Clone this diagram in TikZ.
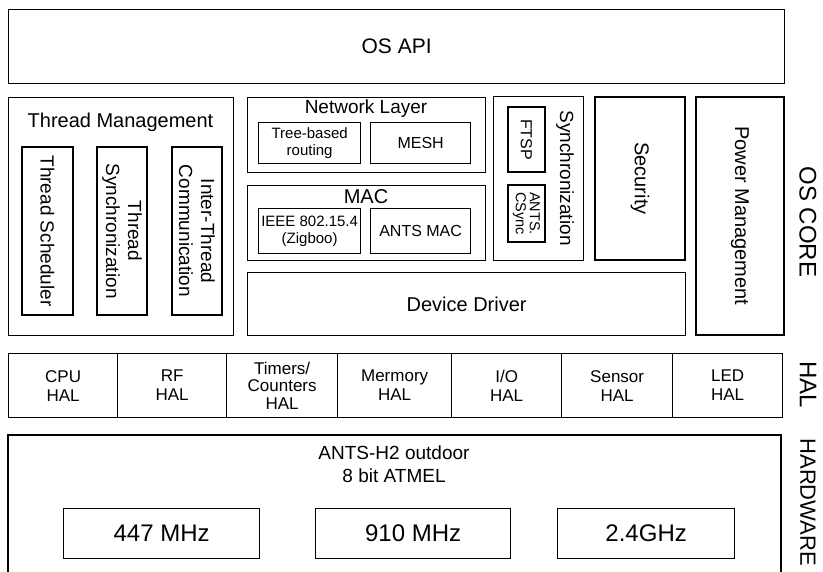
\documentclass[tikz,border=0pt]{standalone}
\usepackage{fontspec}
\setmainfont{Liberation Sans}
\tikzset{
  box/.style={draw, line width=1.3pt, inner sep=0pt, align=center},
  nw/.style={anchor=north west},
  vert/.style={rotate=-90},
  fXL/.style={font=\fontsize{21}{24}\selectfont},
  fL/.style={font=\fontsize{19}{22}\selectfont},
  fM/.style={font=\fontsize{17}{19}\selectfont},
  fS/.style={font=\fontsize{15}{17}\selectfont},
  fSM/.style={font=\fontsize{16}{18}\selectfont},
  fXS/.style={font=\fontsize{14.5}{14}\selectfont},
  fFreq/.style={font=\fontsize{24}{26}\selectfont},
  fSide/.style={font=\fontsize{24}{26}\selectfont},
}
\begin{document}
\begin{tikzpicture}[x=1pt,y=-1pt]
\useasboundingbox (0,0) rectangle (823,572);

% OS API
\node[box, nw, minimum width=776pt, minimum height=74pt, fXL] (osapi) at (8,9) {OS API};

% Thread management
\node[box, nw, minimum width=225pt, minimum height=238pt] (tm) at (8,97) {};
\node[font=\fontsize{20}{22}\selectfont] (tmt) at (120.5,122) {Thread Management};
\node[box, vert, minimum width=168pt, minimum height=51pt, fL] (ts) at (47.5,231) {Thread Scheduler};
\node[box, vert, minimum width=168pt, minimum height=50pt, fL] (tsy) at (122,231) {Thread\\Synchronization};
\node[box, vert, minimum width=168pt, minimum height=50pt, fL] (itc) at (197,231) {Inter-Thread\\Communication};

% Network layer
\node[box, nw, minimum width=238pt, minimum height=75pt] (nl) at (247,97) {};
\node[fL] (nlt) at (366,109) {Network Layer};
\node[box, nw, minimum width=102pt, minimum height=41pt, fS] (tree) at (258,122) {Tree-based\\routing};
\node[box, nw, minimum width=100pt, minimum height=41pt, fSM] (mesh) at (370,122) {MESH};

% MAC
\node[box, nw, minimum width=238pt, minimum height=75pt] (mac) at (247,185) {};
\node[font=\fontsize{20}{22}\selectfont] (mact) at (366,197) {MAC};
\node[box, nw, minimum width=102pt, minimum height=45pt, fS] (ieee) at (258,208) {IEEE 802.15.4\\(Zigboo)};
\node[box, nw, minimum width=100pt, minimum height=45pt, fSM] (antsmac) at (370,208) {ANTS MAC};

% Device driver
\node[box, nw, minimum width=438pt, minimum height=63pt, font=\fontsize{20}{22}\selectfont] (dd) at (247,272) {Device Driver};

% Synchronization
\node[box, nw, minimum width=90pt, minimum height=164pt] (sync) at (493,96) {};
\node[vert, fL] (synct) at (565,178) {Synchronization};
\node[box, vert, minimum width=65pt, minimum height=37pt, fSM] (ftsp) at (526.5,139.5) {FTSP};
\node[box, vert, minimum width=57pt, minimum height=37pt, fXS] (csync) at (526.5,213.5) {ANTS.\\CSync};

% Security
\node[box, vert, minimum width=163pt, minimum height=90pt, font=\fontsize{20}{22}\selectfont] (sec) at (640,178.5) {Security};

% Power management
\node[box, vert, minimum width=238pt, minimum height=88pt, font=\fontsize{20}{22}\selectfont] (pm) at (740,216) {Power Management};

\node[vert, fSide] (oscore) at (808,222) {OS CORE};

% HAL row
\node[box, nw, minimum width=109pt, minimum height=64pt, fM] (cpu) at (8,353) {CPU\\HAL};
\node[box, nw, minimum width=109pt, minimum height=64pt, fM] (rf) at (117,353) {RF\\HAL};
\node[box, nw, minimum width=111pt, minimum height=64pt, font=\fontsize{17}{17.5}\selectfont] (tim) at (226,353) {Timers/\\Counters\\HAL};
\node[box, nw, minimum width=114pt, minimum height=64pt, fM] (mem) at (337,353) {Mermory\\HAL};
\node[box, nw, minimum width=110pt, minimum height=64pt, fM] (io) at (451,353) {I/O\\HAL};
\node[box, nw, minimum width=111pt, minimum height=64pt, fM] (sens) at (561,353) {Sensor\\HAL};
\node[box, nw, minimum width=110pt, minimum height=64pt, fM] (led) at (672,353) {LED\\HAL};

\node[vert, fSide] (hal) at (808,385) {HAL};

% Hardware
\coordinate (hwbl) at (8,572);
\coordinate (hwtl) at (8,435);
\coordinate (hwtr) at (781,435);
\coordinate (hwbr) at (781,572);
\draw[line width=1.3pt] (hwbl) -- (hwtl) -- (hwtr) -- (hwbr);
\node[align=center, font=\fontsize{19}{23}\selectfont] (hwt) at (394,464) {ANTS-H2 outdoor\\8 bit ATMEL};
\node[box, nw, minimum width=196pt, minimum height=50pt, fFreq] (f1) at (63,508) {447 MHz};
\node[box, nw, minimum width=195pt, minimum height=50pt, fFreq] (f2) at (315,508) {910 MHz};
\node[box, nw, minimum width=177pt, minimum height=50pt, fFreq] (f3) at (557,508) {2.4GHz};

\node[vert, anchor=west, font=\fontsize{22}{24}\selectfont] (hw) at (808,435) {HARDWARE};
\end{tikzpicture}
\end{document}
